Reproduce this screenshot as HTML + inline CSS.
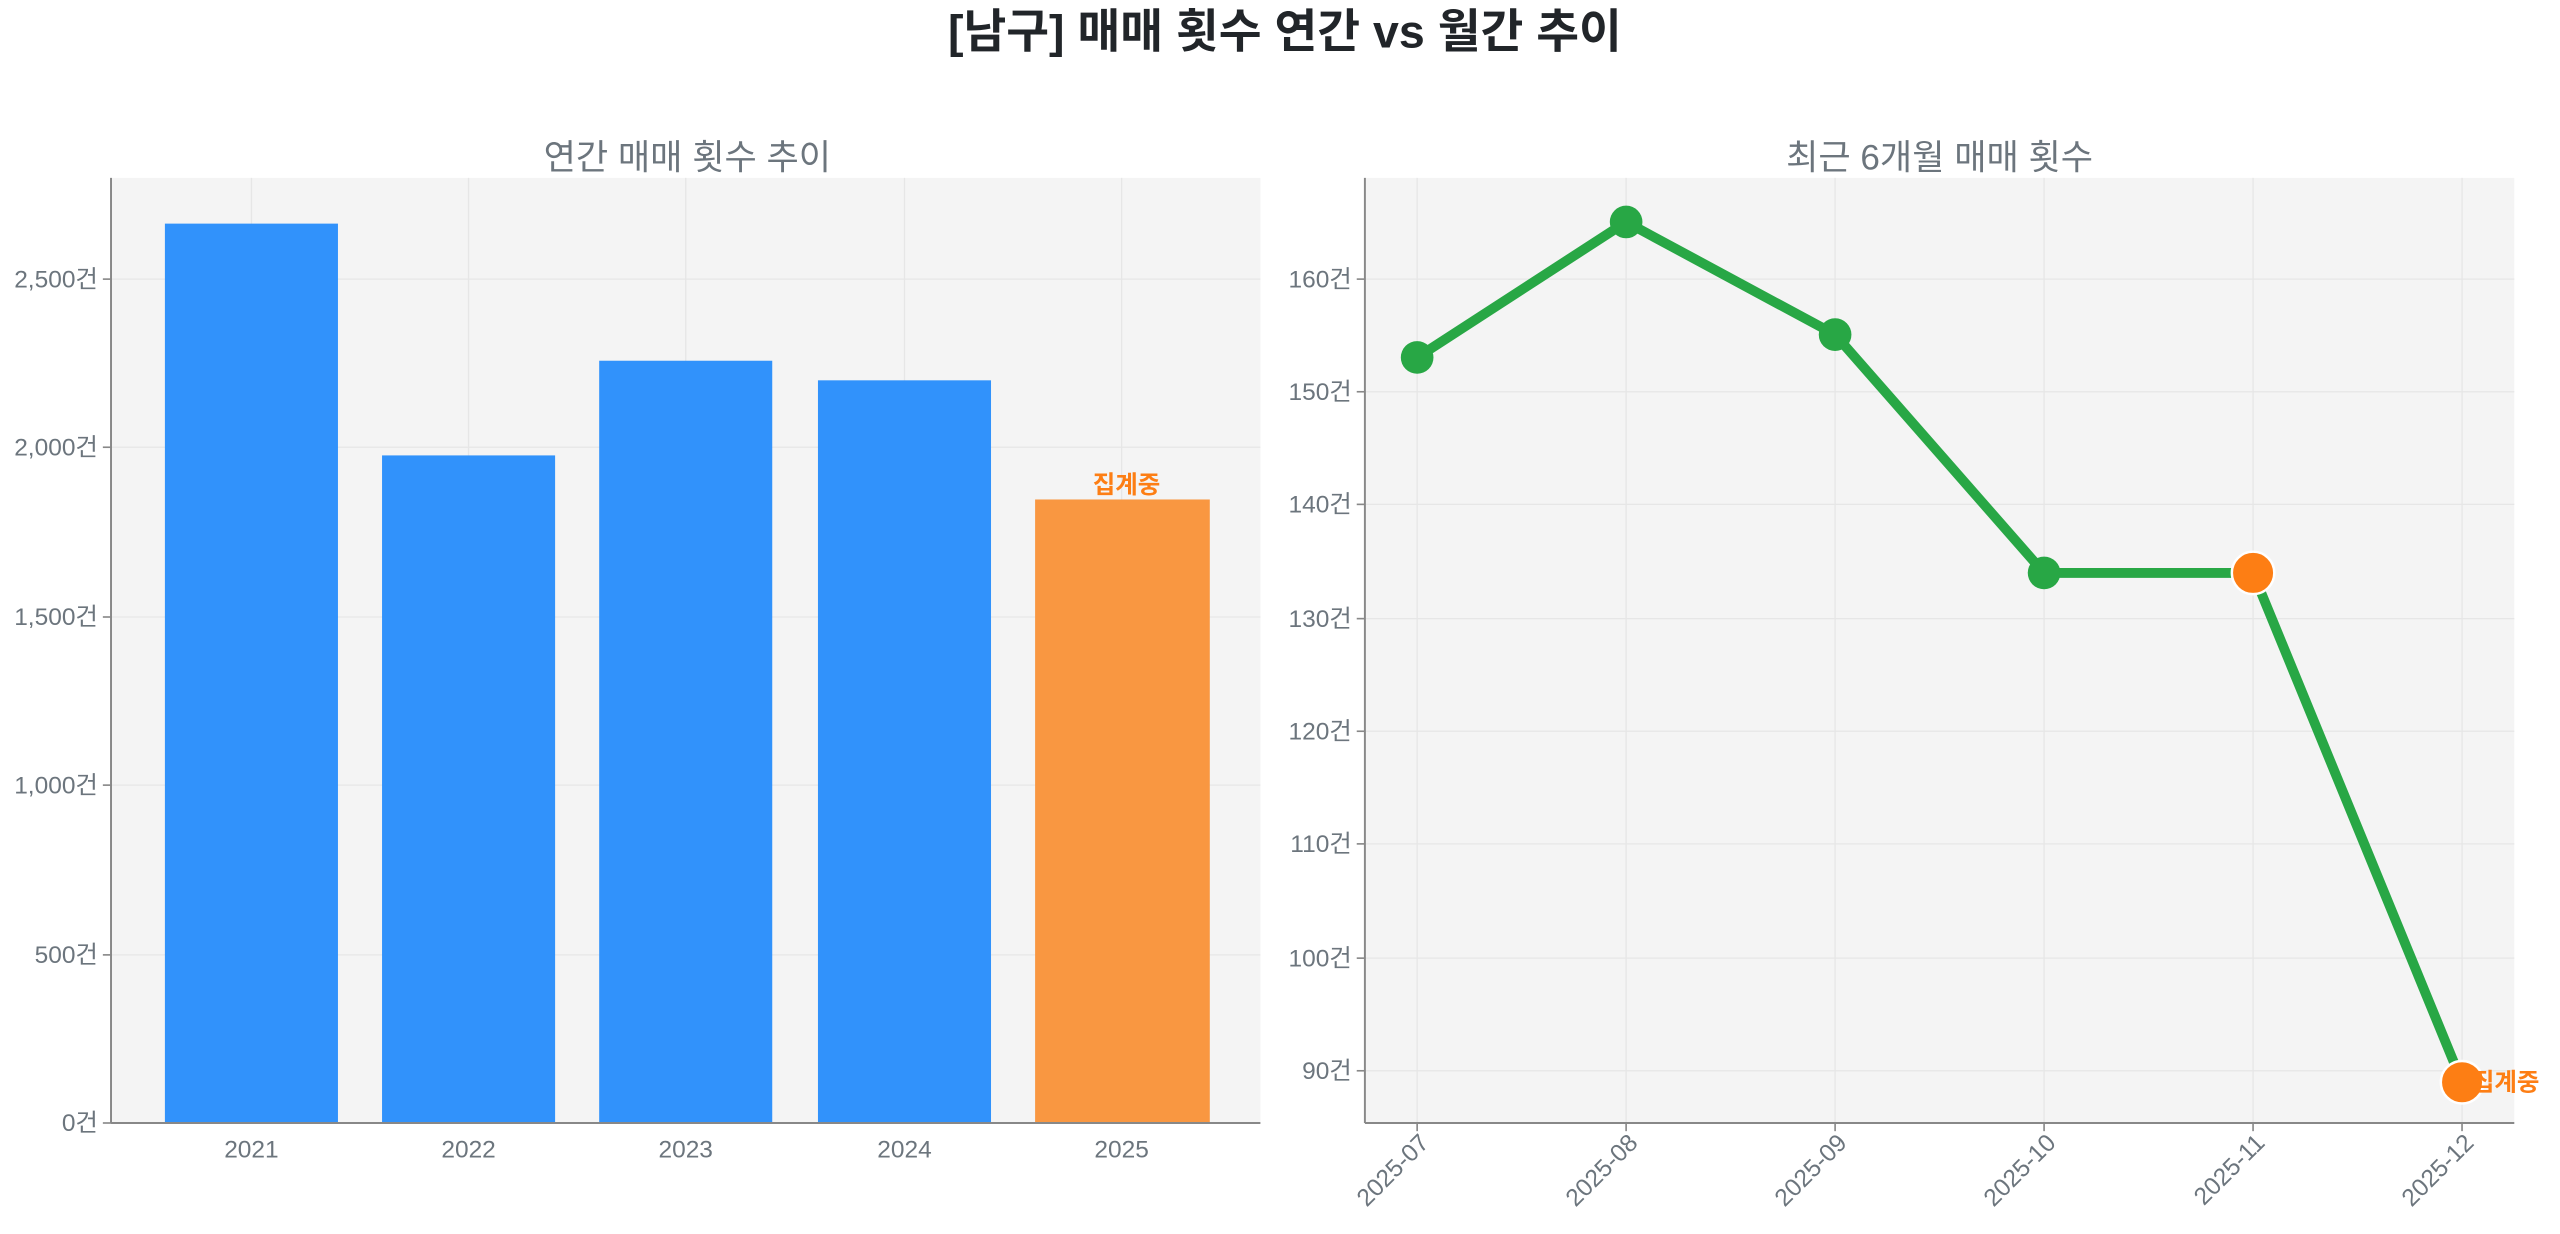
<!DOCTYPE html>
<html><head><meta charset="utf-8"><style>
html,body{margin:0;padding:0;background:#fff;}
svg{display:block;}
text{font-family:"Liberation Sans","Noto Sans CJK KR",sans-serif;}
</style></head><body>
<svg width="2560" height="1234" viewBox="0 0 1568 756" preserveAspectRatio="none" xmlns="http://www.w3.org/2000/svg">
<text x="787" y="29" text-anchor="middle" font-size="28.5" font-weight="bold" fill="#212529">[남구] 매매 횟수 연간 vs 월간 추이</text>

<!-- Left chart -->
<rect x="68" y="109" width="704" height="579" fill="#f4f4f4"/>
<g stroke="#e6e6e6" stroke-width="0.8">
<line x1="154" y1="109" x2="154" y2="688"/><line x1="287" y1="109" x2="287" y2="688"/><line x1="420" y1="109" x2="420" y2="688"/><line x1="554" y1="109" x2="554" y2="688"/><line x1="687" y1="109" x2="687" y2="688"/>
<line x1="68" y1="171" x2="772" y2="171"/><line x1="68" y1="274" x2="772" y2="274"/><line x1="68" y1="378" x2="772" y2="378"/><line x1="68" y1="481" x2="772" y2="481"/><line x1="68" y1="585" x2="772" y2="585"/>
</g>
<rect x="101" y="137" width="106" height="551" fill="#3192fb"/>
<rect x="234" y="279" width="106" height="409" fill="#3192fb"/>
<rect x="367" y="221" width="106" height="467" fill="#3192fb"/>
<rect x="501" y="233" width="106" height="455" fill="#3192fb"/>
<rect x="634" y="306" width="107" height="382" fill="#f99741"/>
<text x="690" y="302" text-anchor="middle" font-size="15" font-weight="bold" fill="#fd7e14">집계중</text>
<line x1="68" y1="109" x2="68" y2="688" stroke="#888" stroke-width="1.2"/>
<line x1="68" y1="688" x2="772" y2="688" stroke="#888" stroke-width="1.2"/>
<text x="421" y="104" text-anchor="middle" font-size="21.5" fill="#6c757d">연간 매매 횟수 추이</text>
<g font-size="15" fill="#6c757d" text-anchor="end">
<text x="60" y="176">2,500건</text><text x="60" y="279">2,000건</text><text x="60" y="383">1,500건</text><text x="60" y="486">1,000건</text><text x="60" y="590">500건</text><text x="60" y="693">0건</text>
</g>
<g stroke="#888" stroke-width="1"><line x1="63" y1="171" x2="68" y2="171"/><line x1="63" y1="274" x2="68" y2="274"/><line x1="63" y1="378" x2="68" y2="378"/><line x1="63" y1="481" x2="68" y2="481"/><line x1="63" y1="585" x2="68" y2="585"/><line x1="63" y1="688" x2="68" y2="688"/></g>
<g font-size="15" fill="#6c757d" text-anchor="middle">
<text x="154" y="709">2021</text><text x="287" y="709">2022</text><text x="420" y="709">2023</text><text x="554" y="709">2024</text><text x="687" y="709">2025</text>
</g>

<!-- Right chart -->
<rect x="836" y="109" width="704" height="579" fill="#f4f4f4"/>
<g stroke="#e6e6e6" stroke-width="0.8">
<line x1="868" y1="109" x2="868" y2="688"/><line x1="996" y1="109" x2="996" y2="688"/><line x1="1124" y1="109" x2="1124" y2="688"/><line x1="1252" y1="109" x2="1252" y2="688"/><line x1="1380" y1="109" x2="1380" y2="688"/><line x1="1508" y1="109" x2="1508" y2="688"/>
<line x1="836" y1="171" x2="1540" y2="171"/><line x1="836" y1="240" x2="1540" y2="240"/><line x1="836" y1="309" x2="1540" y2="309"/><line x1="836" y1="379" x2="1540" y2="379"/><line x1="836" y1="448" x2="1540" y2="448"/><line x1="836" y1="517" x2="1540" y2="517"/><line x1="836" y1="587" x2="1540" y2="587"/><line x1="836" y1="656" x2="1540" y2="656"/>
</g>
<polyline points="868,219 996,136 1124,205 1252,351 1380,351 1508,663" fill="none" stroke="#28a745" stroke-width="6" stroke-linejoin="round"/>
<g fill="#28a745"><circle cx="868" cy="219" r="10"/><circle cx="996" cy="136" r="10"/><circle cx="1124" cy="205" r="10"/><circle cx="1252" cy="351" r="10"/></g>
<g fill="#fd7e14" stroke="#fff" stroke-width="1.5"><circle cx="1380" cy="351" r="13"/><circle cx="1508" cy="663" r="13"/></g>
<text x="1514" y="668" font-size="15" font-weight="bold" fill="#fd7e14">집계중</text>
<line x1="836" y1="109" x2="836" y2="688" stroke="#888" stroke-width="1.2"/>
<line x1="836" y1="688" x2="1540" y2="688" stroke="#888" stroke-width="1.2"/>
<text x="1188" y="104" text-anchor="middle" font-size="21.5" fill="#6c757d">최근 6개월 매매 횟수</text>
<g font-size="15" fill="#6c757d" text-anchor="end">
<text x="828" y="176">160건</text><text x="828" y="245">150건</text><text x="828" y="314">140건</text><text x="828" y="384">130건</text><text x="828" y="453">120건</text><text x="828" y="522">110건</text><text x="828" y="592">100건</text><text x="828" y="661">90건</text>
</g>
<g stroke="#888" stroke-width="1"><line x1="831" y1="171" x2="836" y2="171"/><line x1="831" y1="240" x2="836" y2="240"/><line x1="831" y1="309" x2="836" y2="309"/><line x1="831" y1="379" x2="836" y2="379"/><line x1="831" y1="448" x2="836" y2="448"/><line x1="831" y1="517" x2="836" y2="517"/><line x1="831" y1="587" x2="836" y2="587"/><line x1="831" y1="656" x2="836" y2="656"/>
<line x1="868" y1="688" x2="868" y2="693"/><line x1="996" y1="688" x2="996" y2="693"/><line x1="1124" y1="688" x2="1124" y2="693"/><line x1="1252" y1="688" x2="1252" y2="693"/><line x1="1380" y1="688" x2="1380" y2="693"/><line x1="1508" y1="688" x2="1508" y2="693"/></g>
<g font-size="15" fill="#6c757d" text-anchor="end">
<text transform="translate(876,701) rotate(-45)">2025-07</text>
<text transform="translate(1004,701) rotate(-45)">2025-08</text>
<text transform="translate(1132,701) rotate(-45)">2025-09</text>
<text transform="translate(1260,701) rotate(-45)">2025-10</text>
<text transform="translate(1388,701) rotate(-45)">2025-11</text>
<text transform="translate(1516,701) rotate(-45)">2025-12</text>
</g>
</svg>
</body></html>
